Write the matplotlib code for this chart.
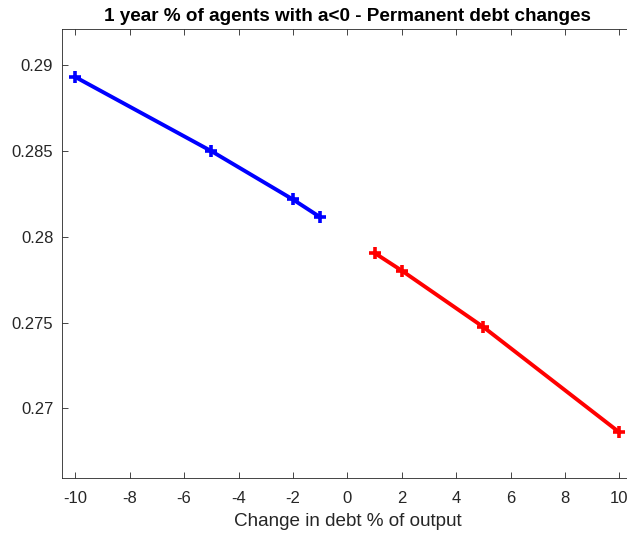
import matplotlib
matplotlib.use("Agg")
import matplotlib.pyplot as plt

# debt change (% of output) and share of agents with a<0
cut_x = [-10, -5, -2, -1]
cut_y = [0.28932, 0.28500, 0.28218, 0.28115]
raise_x = [1, 2, 5, 10]
raise_y = [0.27906, 0.27803, 0.27474, 0.26860]

x_ticks = [-10, -8, -6, -4, -2, 0, 2, 4, 6, 8, 10]
x_ticklabels = [str(v) for v in x_ticks]
y_ticks = [0.27, 0.275, 0.28, 0.285, 0.29]
y_ticklabels = ["0.27", "0.275", "0.28", "0.285", "0.29"]

plt.rcParams["font.family"] = ["Liberation Sans", "DejaVu Sans"]
axis_col = "#262626"

fig = plt.figure(figsize=(6.27, 5.38), dpi=100)
# the right spine sits just past the figure edge, as in the original export
ax = fig.add_axes([61.7 / 627, (538 - 478.3) / 538, (633 - 61.7) / 627, (478.3 - 29) / 538])

ax.plot(cut_x, cut_y, color=(0, 0, 1), lw=2.8, marker="+", ms=8, mew=2.6)
ax.plot(raise_x, raise_y, color=(1, 0, 0), lw=2.8, marker="+", ms=8, mew=2.6)

ax.set_xlim(-10.5, 10.5)
ax.set_ylim(0.26592, 0.29212)
ax.set_xticks(x_ticks)
ax.set_xticklabels(x_ticklabels)
ax.set_yticks(y_ticks)
ax.set_yticklabels(y_ticklabels)
ax.tick_params(direction="in", top=True, right=True, length=4.5, width=0.6,
               colors=axis_col, labelsize=12)
ax.tick_params(axis="x", pad=9.5)
ax.tick_params(axis="y", pad=6)
for s in ax.spines.values():
    s.set_color(axis_col)
    s.set_linewidth(0.6)

ax.set_xlabel("Change in debt % of output", fontsize=13.6, color=axis_col, labelpad=5)
ax.set_title("1 year % of agents with a<0 - Permanent debt changes",
             fontsize=13.6, fontweight="bold", color="black", pad=6)

fig.savefig("out.png", dpi=100)
